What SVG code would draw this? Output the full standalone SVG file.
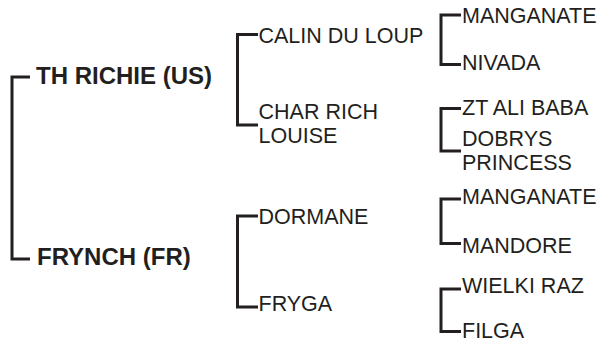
<svg xmlns="http://www.w3.org/2000/svg" width="601" height="342" viewBox="0 0 601 342">
<style>
.c{fill:none;stroke:#231f20;stroke-width:3;stroke-linejoin:miter;stroke-linecap:butt}
.t{font-family:"Liberation Sans",Arial,sans-serif;font-size:21.5px;fill:#231f20}
.b{font-family:"Liberation Sans",Arial,sans-serif;font-size:24px;font-weight:bold;fill:#231f20}
</style>
<rect width="601" height="342" fill="#ffffff"/>
<g id="connectors">
<path class="c" d="M30,77 H12 V259 H30"/>
<path class="c" d="M258,34.5 H237.5 V125 H258"/>
<path class="c" d="M258,216 H237.5 V307 H258"/>
<path class="c" d="M461,15 H441 V64.5 H461"/>
<path class="c" d="M461,108.5 H441 V151 H461"/>
<path class="c" d="M461,199 H441 V243.5 H461"/>
<path class="c" d="M461,289 H441 V331.5 H461"/>
</g>
<g id="th-richie"><text class="b" x="36" y="84">TH RICHIE (US)</text></g>
<g id="frynch"><text class="b" x="37" y="264.5">FRYNCH (FR)</text></g>
<g id="calin-du-loup"><text class="t" x="258.5" y="42.5">CALIN DU LOUP</text></g>
<g id="char-rich-louise"><text class="t" x="258.5" y="119">CHAR RICH</text><text class="t" x="258.5" y="143.3">LOUISE</text></g>
<g id="dormane"><text class="t" x="258.5" y="223.5">DORMANE</text></g>
<g id="fryga"><text class="t" x="258.5" y="311">FRYGA</text></g>
<g id="manganate-1"><text class="t" x="462" y="22.7">MANGANATE</text></g>
<g id="nivada"><text class="t" x="462" y="70">NIVADA</text></g>
<g id="zt-ali-baba"><text class="t" x="462" y="115">ZT ALI BABA</text></g>
<g id="dobrys-princess"><text class="t" x="462" y="145.7">DOBRYS</text><text class="t" x="462" y="170">PRINCESS</text></g>
<g id="manganate-2"><text class="t" x="462" y="204">MANGANATE</text></g>
<g id="mandore"><text class="t" x="462" y="252.7">MANDORE</text></g>
<g id="wielki-raz"><text class="t" x="462" y="293.3">WIELKI RAZ</text></g>
<g id="filga"><text class="t" x="462" y="338.3">FILGA</text></g>
</svg>
